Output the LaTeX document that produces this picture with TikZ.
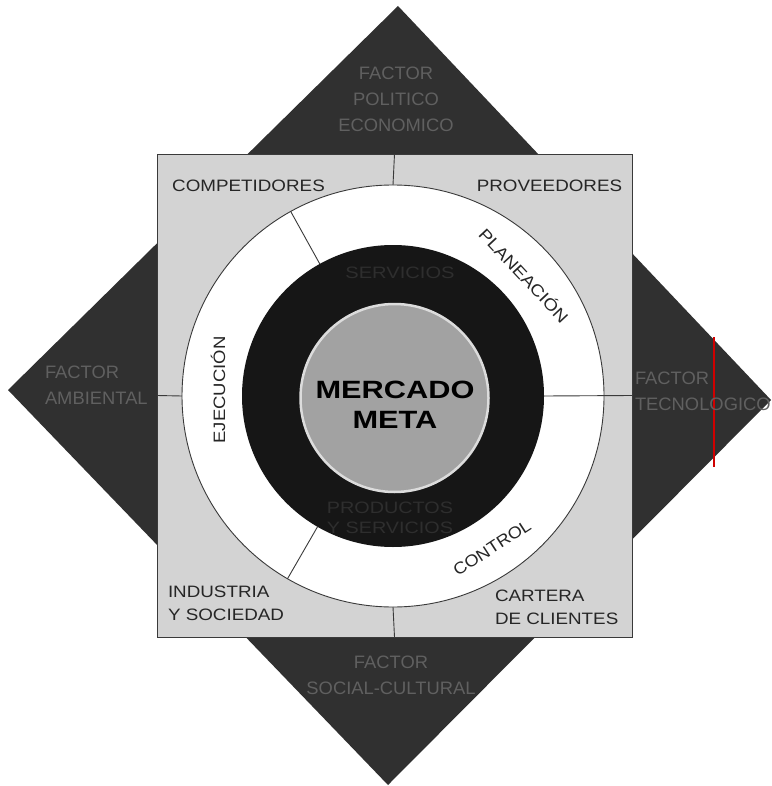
\documentclass[tikz,border=0pt]{standalone}
\usepackage{fontspec}
\setmainfont{Liberation Sans}
\usepackage{graphicx}
\definecolor{diam}{HTML}{303030}
\definecolor{band}{HTML}{D3D3D3}
\definecolor{darkc}{HTML}{161616}
\definecolor{corec}{HTML}{A2A2A2}
\definecolor{rimc}{HTML}{DCDCDC}
\definecolor{facttxt}{HTML}{606060}
\definecolor{faint}{HTML}{2E2E2E}
\definecolor{linec}{HTML}{3A3A3A}
\definecolor{txtc}{HTML}{262626}
\definecolor{redline}{HTML}{D00000}
\newcommand{\wide}[2][1.14]{\scalebox{#1}[1]{#2}}
\tikzset{
  lbl/.style={inner sep=0pt, outer sep=0pt, text=txtc, font=\fontsize{16.5}{23}\selectfont},
  factlbl/.style={inner sep=0pt, outer sep=0pt, text=facttxt, font=\fontsize{18}{26}\selectfont},
  faintlbl/.style={inner sep=0pt, outer sep=0pt, text=faint, font=\fontsize{16.5}{20}\selectfont},
  disc/.style={circle, inner sep=0pt, outer sep=0pt},
  divider/.style={draw=linec, line width=0.9pt}
}
\begin{document}
\begin{tikzpicture}[x=1pt,y=1pt]
\useasboundingbox (0,0) rectangle (771,-786);
\fill[white] (0,0) rectangle (771,-786);
% diamond
\coordinate (dT) at (398,-6);
\coordinate (dR) at (771,-400);
\coordinate (dB) at (388,-785);
\coordinate (dL) at (8,-390);
\fill[diam] (dT) -- (dR) -- (dB) -- (dL) -- cycle;
% red line
\coordinate (r1) at (714,-337);
\coordinate (r2) at (714,-467);
\draw[redline, line width=2pt] (r1) -- (r2);
% square
\node[draw=linec, line width=0.9pt, fill=band, minimum width=475pt, minimum height=483pt, inner sep=0pt, outer sep=0pt] (sq) at (394.5,-395.5) {};
% rings
\node[disc, fill=white, draw=linec, line width=0.9pt, minimum size=422pt] (ring) at (393,-396) {};
\node[disc, fill=darkc, minimum size=302pt] (dark) at (393,-396) {};
\node[disc, fill=corec, draw=rimc, line width=2.5pt, minimum size=188pt] (core) at (394.5,-398) {};
% dividers
\draw[divider] (ring.north) -- (sq.north);
\draw[divider] (ring.south) -- (sq.south);
\draw[divider] (ring.west) -- (sq.west);
\draw[divider] (dark.east) -- (sq.east);
\draw[divider] (dark.119) -- (ring.119);
\draw[divider] (dark.240) -- (ring.240);
% band labels
\node[lbl, anchor=base] (comp) at (248.5,-192) {\wide{COMPETIDORES}};
\node[lbl, anchor=base] (prov) at (549.5,-192) {\wide{PROVEEDORES}};
\node[lbl, anchor=base west] (ind) at (168,-597) {\wide{\begin{tabular}[t]{@{}l@{}}INDUSTRIA\\Y SOCIEDAD\end{tabular}}};
\node[lbl, anchor=base west] (cart) at (495,-601) {\wide{\begin{tabular}[t]{@{}l@{}}CARTERA\\DE CLIENTES\end{tabular}}};
% ring labels
\node[lbl, rotate=-47] (plan) at (524.5,-275) {\wide[1.15]{PLANEACIÓN}};
\node[lbl, rotate=33] (ctrl) at (492,-548) {\wide[1.1]{CONTROL}};
\node[lbl, rotate=90] (ejec) at (218,-390) {\wide[1.12]{EJECUCIÓN}};
% faint labels in dark ring
\node[faintlbl, anchor=base] (serv) at (400,-278) {\wide[1.22]{SERVICIOS}};
\node[faintlbl, anchor=base] (prod) at (390,-513) {\wide[1.2]{\begin{tabular}[t]{@{}c@{}}PRODUCTOS\\Y SERVICIOS\end{tabular}}};
% core label
\node[inner sep=0pt, outer sep=0pt, anchor=base, text=black, font=\fontsize{25}{30}\selectfont\bfseries] (meta) at (395,-398) {\wide[1.23]{\begin{tabular}[t]{@{}c@{}}MERCADO\\META\end{tabular}}};
% factor labels
\node[factlbl, anchor=base] (fpol) at (396,-79.5) {\wide[1.02]{\begin{tabular}[t]{@{}c@{}}FACTOR\\POLITICO\\ECONOMICO\end{tabular}}};
\node[factlbl, anchor=base west] (famb) at (45,-378.5) {\wide[1.02]{\begin{tabular}[t]{@{}l@{}}FACTOR\\AMBIENTAL\end{tabular}}};
\node[factlbl, anchor=base west] (ftec) at (635,-384.5) {\wide[1.02]{\begin{tabular}[t]{@{}l@{}}FACTOR\\TECNOLOGICO\end{tabular}}};
\node[factlbl, anchor=base] (fsoc) at (391,-668.5) {\wide[1.02]{\begin{tabular}[t]{@{}c@{}}FACTOR\\SOCIAL-CULTURAL\end{tabular}}};
\end{tikzpicture}
\end{document}
